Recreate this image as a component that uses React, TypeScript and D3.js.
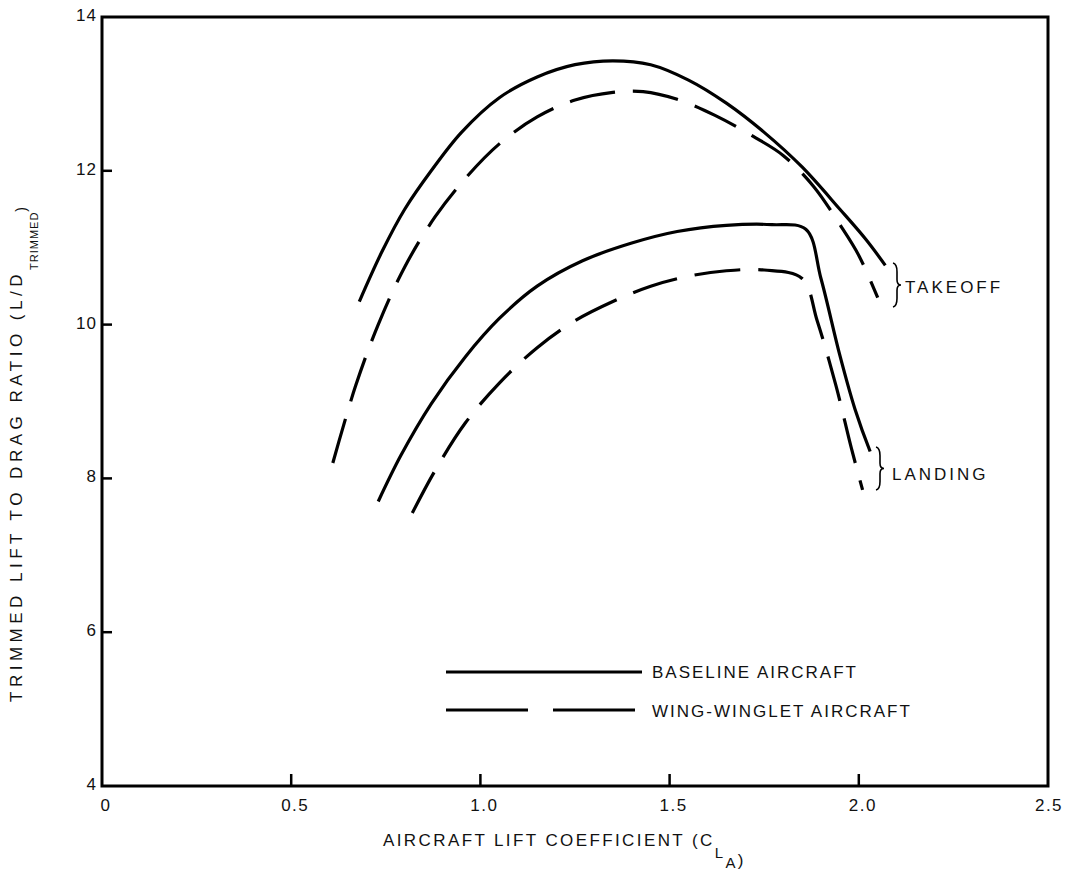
import React from "react";
import * as d3 from "d3";

const xTicks = [0, 0.5, 1.0, 1.5, 2.0, 2.5];
const xTickLabels = ["0", "0.5", "1.0", "1.5", "2.0", "2.5"];
const yTicks = [4, 6, 8, 10, 12, 14];

const baselineTakeoff: [number, number][] = [
  [0.68, 10.3], [0.74, 10.95], [0.8, 11.5], [0.87, 12.0], [0.95, 12.5], [1.05, 12.95],
  [1.15, 13.22], [1.25, 13.38], [1.35, 13.43], [1.45, 13.38], [1.55, 13.18], [1.65, 12.88],
  [1.75, 12.5], [1.85, 12.05], [1.95, 11.5], [2.02, 11.1], [2.07, 10.77],
];
const wingletTakeoff: [number, number][] = [
  [0.61, 8.2], [0.67, 9.2], [0.73, 10.0], [0.8, 10.75], [0.88, 11.4], [0.96, 11.9],
  [1.05, 12.35], [1.15, 12.7], [1.25, 12.92], [1.35, 13.02], [1.43, 13.03], [1.52, 12.93],
  [1.62, 12.72], [1.72, 12.45], [1.8, 12.2], [1.88, 11.8], [1.95, 11.3], [2.0, 10.9], [2.05, 10.35],
];
const baselineLanding: [number, number][] = [
  [0.73, 7.7], [0.79, 8.3], [0.87, 8.97], [0.96, 9.58], [1.05, 10.08], [1.15, 10.5],
  [1.27, 10.83], [1.4, 11.06], [1.52, 11.21], [1.65, 11.29], [1.77, 11.3], [1.86, 11.24],
  [1.9, 10.6], [1.95, 9.6], [1.99, 8.9], [2.03, 8.35],
];
const wingletLanding: [number, number][] = [
  [0.82, 7.55], [0.88, 8.1], [0.96, 8.72], [1.05, 9.24], [1.15, 9.7], [1.25, 10.05],
  [1.35, 10.3], [1.45, 10.5], [1.55, 10.63], [1.65, 10.7], [1.75, 10.71], [1.85, 10.6],
  [1.89, 10.05], [1.94, 9.2], [1.98, 8.4], [2.01, 7.85],
];

const legendItems = [
  { label: "BASELINE AIRCRAFT", dashed: false },
  { label: "WING-WINGLET AIRCRAFT", dashed: true },
];

const W = 1068;
const H = 878;
const left = 102;
const right = 1048;
const top = 17;
const bottom = 786;

export default function App() {
  const x = d3.scaleLinear().domain([0, 2.5]).range([left, right]);
  const y = d3.scaleLinear().domain([4, 14]).range([bottom, top]);
  const line = d3
    .line<[number, number]>()
    .x((d) => x(d[0]))
    .y((d) => y(d[1]))
    .curve(d3.curveCatmullRom.alpha(0.5));
  const font = "'Liberation Sans', Arial, Helvetica, sans-serif";
  const dash = "46,18";

  const brace = (bx: number, y1: number, y2: number) => {
    const h = y2 - y1;
    const m = (y1 + y2) / 2;
    const w = 4;
    return `M${bx},${y1} Q${bx + w},${y1 + 1} ${bx + w},${y1 + h * 0.2} L${bx + w},${m - h * 0.12} Q${bx + w},${m} ${bx + 2 * w},${m} Q${bx + w},${m} ${bx + w},${m + h * 0.12} L${bx + w},${y2 - h * 0.2} Q${bx + w},${y2 - 1} ${bx},${y2}`;
  };

  const curves = [
    { data: baselineTakeoff, dashed: false },
    { data: wingletTakeoff, dashed: true },
    { data: baselineLanding, dashed: false },
    { data: wingletLanding, dashed: true },
  ];

  return (
    <svg
      width={W}
      height={H}
      style={{ position: "absolute", left: 0, top: 0, background: "#fff" }}
      fontFamily={font}
    >
      <rect x={0} y={0} width={W} height={H} fill="#fff" />
      <rect
        x={left}
        y={top}
        width={right - left}
        height={bottom - top}
        fill="none"
        stroke="#000"
        strokeWidth={3}
      />
      {xTicks.slice(1, -1).map((t) => (
        <line key={"xt" + t} x1={x(t)} x2={x(t)} y1={bottom} y2={bottom - 12} stroke="#000" strokeWidth={2.5} />
      ))}
      {xTicks.map((t, i) => (
        <text key={"xl" + t} x={x(t) + (i === xTicks.length - 1 ? 1 : 4)} y={bottom + 25} fontSize={17} letterSpacing={1.5} textAnchor="middle" fill="#111">
          {xTickLabels[i]}
        </text>
      ))}
      {yTicks.slice(1, -1).map((t) => (
        <line key={"yt" + t} x1={left} x2={left + 10} y1={y(t)} y2={y(t)} stroke="#000" strokeWidth={2.5} />
      ))}
      {yTicks.map((t) => (
        <text key={"yl" + t} x={left - 5} y={y(t) + 4} fontSize={17} letterSpacing={1} textAnchor="end" fill="#111">
          {t}
        </text>
      ))}
      {curves.map((c, i) => (
        <path
          key={"c" + i}
          d={line(c.data) || ""}
          fill="none"
          stroke="#000"
          strokeWidth={3.2}
          strokeDasharray={c.dashed ? dash : undefined}
          strokeLinecap="butt"
        />
      ))}
      <path d={brace(893, 263, 307)} fill="none" stroke="#000" strokeWidth={1.6} />
      <text x={905} y={293} fontSize={17} fill="#111" letterSpacing={3}>TAKEOFF</text>
      <path d={brace(876, 447, 490)} fill="none" stroke="#000" strokeWidth={1.6} />
      <text x={892} y={480} fontSize={17} fill="#111" letterSpacing={3}>LANDING</text>
      {legendItems.map((it, i) => (
        <g key={"lg" + i}>
          <line
            x1={446}
            x2={642}
            y1={672 + i * 38}
            y2={672 + i * 38}
            stroke="#000"
            strokeWidth={3.2}
            strokeDasharray={it.dashed ? "82,25" : undefined}
          />
          <text x={652} y={678 + i * 39} fontSize={17} fill="#111" letterSpacing={2}>
            {it.label}
          </text>
        </g>
      ))}
      <text x={383} y={846} fontSize={17} fill="#111" letterSpacing={2.4}>
        AIRCRAFT LIFT COEFFICIENT (C
        <tspan fontSize={15} dy={12}>L</tspan>
        <tspan fontSize={15} dy={10}>A</tspan>
        <tspan dy={-2}>)</tspan>
      </text>
      <text
        transform={`translate(22, 702) rotate(-90)`}
        x={0}
        y={0}
        fontSize={17}
        fill="#111"
        letterSpacing={4.5}
      >
        TRIMMED LIFT TO DRAG RATIO (L/D
        <tspan fontSize={11} letterSpacing={1} dy={16}>TRIMMED</tspan>
        <tspan fontSize={14} letterSpacing={0} dy={-12}>)</tspan>
      </text>
    </svg>
  );
}
